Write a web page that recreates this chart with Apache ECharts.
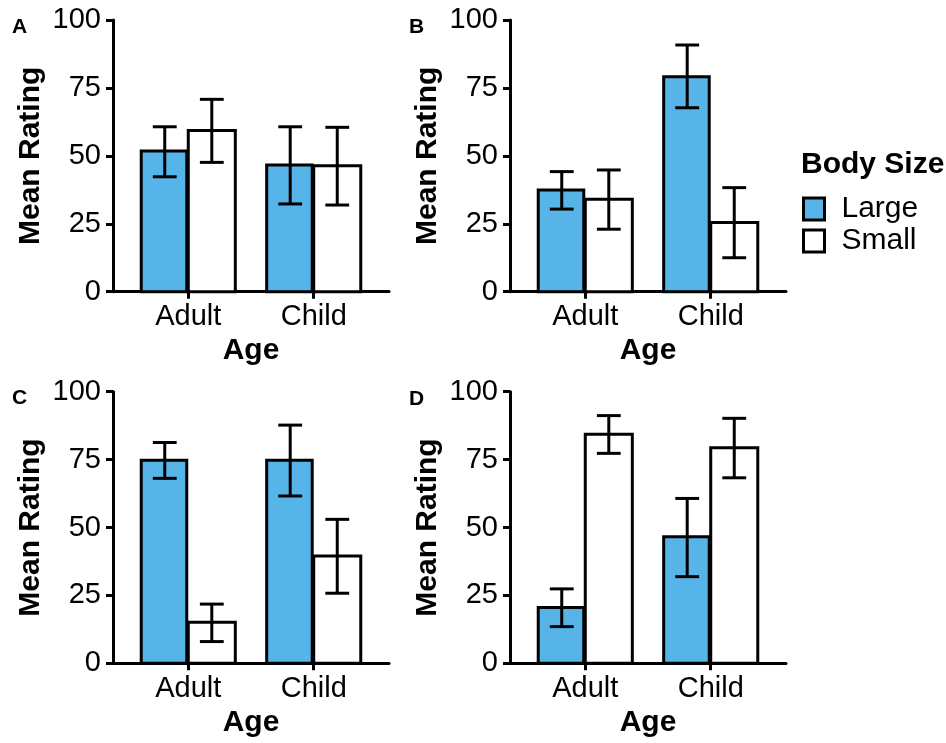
<!DOCTYPE html>
<html>
<head>
<meta charset="utf-8">
<script src="https://cdn.jsdelivr.net/npm/echarts@6/dist/echarts.min.js"></script>
<style>
html,body{margin:0;padding:0;background:#fff;}
#chart{width:946px;height:743px;}
</style>
</head>
<body>
<div id="chart"></div>
<script>
// ---- data ----
const ages = ['Adult', 'Child'];
const sizes = ['Large', 'Small'];
const panelLetters = ['A', 'B', 'C', 'D'];
const yMin = 0, yMax = 100, yStep = 25;

// panel A
const A_largeMean = [51.8, 46.6], A_largeLo = [42.3, 32.3], A_largeHi = [60.7, 60.7];
const A_smallMean = [59.3, 46.4], A_smallLo = [47.6, 31.9], A_smallHi = [70.8, 60.5];
// panel B
const B_largeMean = [37.4, 79.1], B_largeLo = [30.4, 67.7], B_largeHi = [44.2, 90.8];
const B_smallMean = [34.0, 25.5], B_smallLo = [23.0, 12.5], B_smallHi = [44.8, 38.3];
// panel C
const C_largeMean = [74.8, 74.8], C_largeLo = [68.1, 61.6], C_largeHi = [81.3, 87.7];
const C_smallMean = [15.1, 39.5], C_smallLo = [8.0, 25.8], C_smallHi = [21.8, 53.0];
// panel D
const D_largeMean = [20.5, 46.6], D_largeLo = [13.5, 31.9], D_largeHi = [27.4, 60.7];
const D_smallMean = [84.3, 79.4], D_smallLo = [77.3, 68.3], D_smallHi = [91.2, 90.2];

const panels = [
  {large: [A_largeMean, A_largeLo, A_largeHi], small: [A_smallMean, A_smallLo, A_smallHi]},
  {large: [B_largeMean, B_largeLo, B_largeHi], small: [B_smallMean, B_smallLo, B_smallHi]},
  {large: [C_largeMean, C_largeLo, C_largeHi], small: [C_smallMean, C_smallLo, C_smallHi]},
  {large: [D_largeMean, D_largeLo, D_largeHi], small: [D_smallMean, D_smallLo, D_smallHi]}
];

// ---- styling / layout ----
const FONT = '"Liberation Sans", Arial, Helvetica, sans-serif';
const BLUE = '#56B4E9';
const gridPos = [
  {left: 113, top: 20, width: 276, height: 271.7},
  {left: 510, top: 20, width: 276, height: 271.7},
  {left: 113, top: 391.7, width: 276, height: 271.6},
  {left: 510, top: 391.7, width: 276, height: 271.6}
];
const BAR_W = 0.375;    // dodge width per bar (category units)
const CAP_HALF = 0.095; // error bar cap half width
const SEP = 0.012;      // tiny separation between dodged bars

function makeRender(side, fill) {
  return function (params, api) {
    const c = api.value(0), m = api.value(1), lo = api.value(2), hi = api.value(3);
    const xa = side < 0 ? c - BAR_W : c;
    const xb = side < 0 ? c - SEP : c + BAR_W;
    const p0 = api.coord([xa, 0]);
    const p1 = api.coord([xb, m]);
    const xc = c + side * BAR_W / 2;
    const top = api.coord([xc, hi]);
    const bot = api.coord([xc, lo]);
    const tl = api.coord([xc - CAP_HALF, hi]);
    const tr = api.coord([xc + CAP_HALF, hi]);
    const bl = api.coord([xc - CAP_HALF, lo]);
    const br = api.coord([xc + CAP_HALF, lo]);
    const ls = {stroke: '#000', lineWidth: 3};
    return {
      type: 'group',
      children: [
        {type: 'rect', shape: {x: p0[0], y: p1[1], width: p1[0] - p0[0], height: p0[1] - p1[1]},
         style: {fill: fill, stroke: '#000', lineWidth: 3}},
        {type: 'line', shape: {x1: top[0], y1: top[1], x2: bot[0], y2: bot[1]}, style: ls},
        {type: 'line', shape: {x1: tl[0], y1: tl[1], x2: tr[0], y2: tr[1]}, style: ls},
        {type: 'line', shape: {x1: bl[0], y1: bl[1], x2: br[0], y2: br[1]}, style: ls}
      ]
    };
  };
}

const grids = [], xAxes = [], yAxes = [], series = [], titles = [];
const letterPos = [{left: 12, top: 17}, {left: 409, top: 17}, {left: 12, top: 388}, {left: 409, top: 389}];

panels.forEach((p, i) => {
  grids.push(Object.assign({containLabel: false}, gridPos[i]));
  xAxes.push({
    type: 'value', gridIndex: i, min: 0.4, max: 2.6,
    name: 'Age', nameLocation: 'middle', nameGap: 44,
    nameTextStyle: {fontFamily: FONT, fontSize: 30, fontWeight: 'bold', color: '#000'},
    axisLine: {show: true, lineStyle: {color: '#000', width: 3}},
    axisTick: {show: true, customValues: [1, 2], length: 7, lineStyle: {color: '#000', width: 3}},
    axisLabel: {show: true, customValues: [1, 2], margin: 11,
      formatter: v => ages[Math.round(v) - 1] || '',
      fontFamily: FONT, fontSize: 29, color: '#000'},
    splitLine: {show: false}
  });
  yAxes.push({
    type: 'value', gridIndex: i, min: yMin, max: yMax, interval: yStep,
    name: 'Mean Rating', nameLocation: 'middle', nameGap: 67,
    nameTextStyle: {fontFamily: FONT, fontSize: 30, fontWeight: 'bold', color: '#000'},
    axisLine: {show: true, lineStyle: {color: '#000', width: 3}},
    axisTick: {show: true, length: 7, lineStyle: {color: '#000', width: 3}},
    axisLabel: {margin: 12, fontFamily: FONT, fontSize: 29, color: '#000'},
    splitLine: {show: false}
  });
  const groupsData = [p.large, p.small];
  sizes.forEach((s, k) => {
    const arr = groupsData[k];
    const data = ages.map((a, j) => [j + 1, arr[0][j], arr[1][j], arr[2][j]]);
    const fill = k === 0 ? BLUE : '#ffffff';
    series.push({
      type: 'custom', name: s, xAxisIndex: i, yAxisIndex: i,
      itemStyle: {color: fill, borderColor: '#000', borderWidth: 3},
      encode: {x: 0, y: [1, 2, 3]},
      renderItem: makeRender(k === 0 ? -1 : 1, fill),
      data: data, z: 2 + k
    });
  });
  titles.push({text: panelLetters[i], left: letterPos[i].left, top: letterPos[i].top, padding: 0,
    textStyle: {fontFamily: FONT, fontSize: 21, fontWeight: 'bold', color: '#000'}});
});

titles.push({text: 'Body Size', left: 796, top: 145,
  textStyle: {fontFamily: FONT, fontSize: 30, fontWeight: 'bold', color: '#000'}});

const option = {
  backgroundColor: '#fff',
  animation: false,
  title: titles,
  grid: grids,
  xAxis: xAxes,
  yAxis: yAxes,
  legend: {
    orient: 'vertical', left: 797, top: 189,
    data: sizes.map(s => ({name: s, icon: 'rect'})),
    itemWidth: 21, itemHeight: 22, itemGap: 2,
    itemStyle: {borderColor: '#000', borderWidth: 3},
    textStyle: {fontFamily: FONT, fontSize: 30, color: '#000', lineHeight: 26, padding: [0, 0, 0, 12]},
    selectedMode: false
  },
  series: series
};

const chart = echarts.init(document.getElementById('chart'), null, {renderer: 'canvas'});
chart.setOption(option);
</script>
</body>
</html>
